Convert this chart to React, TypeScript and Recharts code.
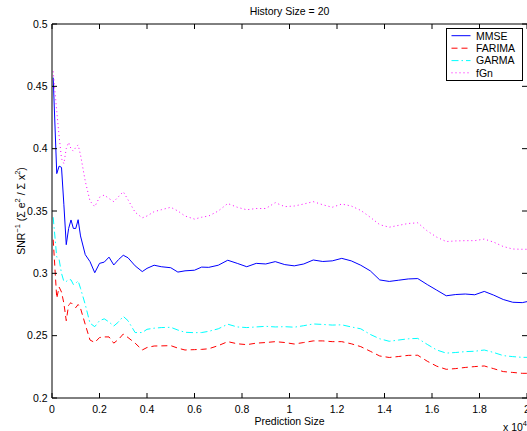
import React from "react";
import { LineChart, Line, XAxis, YAxis, Customized } from "recharts";

// Prediction size (x 10^4)
const xs = [
  0.005, 0.02, 0.03, 0.04, 0.05, 0.06, 0.07, 0.08, 0.09, 0.1, 0.11, 0.12, 0.14, 0.16, 0.18, 0.2,
  0.22, 0.24, 0.26, 0.28, 0.3, 0.32, 0.35, 0.38, 0.4, 0.43, 0.46, 0.5, 0.53, 0.56, 0.6, 0.63,
  0.66, 0.7, 0.74, 0.78, 0.82, 0.86, 0.9, 0.94, 0.98, 1.02, 1.06, 1.1, 1.14, 1.18, 1.22, 1.26,
  1.3, 1.34, 1.38, 1.42, 1.46, 1.5, 1.54, 1.58, 1.62, 1.66, 1.7, 1.74, 1.78, 1.82, 1.86, 1.9,
  1.94, 1.98, 2.0,
];

const mmse = [
  0.457, 0.38, 0.386, 0.385, 0.355, 0.323, 0.336, 0.3428, 0.336, 0.336, 0.343, 0.33, 0.315, 0.3094, 0.3005, 0.308,
  0.309, 0.313, 0.3067, 0.311, 0.3145, 0.3125, 0.306, 0.3014, 0.304, 0.3065, 0.3053, 0.3045, 0.301, 0.302, 0.3025, 0.305,
  0.3048, 0.3065, 0.3105, 0.308, 0.3053, 0.308, 0.3075, 0.3094, 0.307, 0.306, 0.3075, 0.3107, 0.3095, 0.31, 0.312, 0.31,
  0.3065, 0.302, 0.2947, 0.2935, 0.2945, 0.2955, 0.2958, 0.291, 0.2865, 0.282, 0.283, 0.2834, 0.2828, 0.2855, 0.2825, 0.279,
  0.2768, 0.2765, 0.2773,
];

const farima = [
  0.327, 0.28, 0.289, 0.285, 0.276, 0.262, 0.2746, 0.2765, 0.2745, 0.2725, 0.275, 0.272, 0.259, 0.2465, 0.2445, 0.2485,
  0.249, 0.249, 0.244, 0.247, 0.2513, 0.2485, 0.244, 0.2385, 0.2405, 0.2417, 0.2418, 0.242, 0.24, 0.2385, 0.2388, 0.239,
  0.2395, 0.242, 0.2452, 0.2435, 0.2428, 0.244, 0.2445, 0.2452, 0.2445, 0.2433, 0.2445, 0.2458, 0.2458, 0.2452, 0.2452, 0.2435,
  0.2412, 0.2375, 0.2337, 0.2325, 0.2333, 0.2342, 0.2343, 0.2295, 0.2255, 0.223, 0.2236, 0.2245, 0.2252, 0.2257, 0.2235, 0.2212,
  0.2205, 0.2198, 0.2198,
];

const garma = [
  0.345, 0.313, 0.311, 0.3, 0.2935, 0.2935, 0.295, 0.2948, 0.291, 0.292, 0.294, 0.288, 0.275, 0.26, 0.2572, 0.262,
  0.2635, 0.261, 0.2577, 0.261, 0.2655, 0.262, 0.2525, 0.2525, 0.2551, 0.256, 0.2565, 0.2567, 0.2545, 0.2527, 0.2524, 0.2525,
  0.2535, 0.2555, 0.2592, 0.257, 0.2565, 0.257, 0.2575, 0.257, 0.2572, 0.2568, 0.258, 0.2594, 0.259, 0.2585, 0.2587, 0.257,
  0.2555, 0.251, 0.2475, 0.2455, 0.2465, 0.2475, 0.2478, 0.243, 0.2385, 0.236, 0.2365, 0.2372, 0.2375, 0.2385, 0.2365, 0.234,
  0.2332, 0.2326, 0.2326,
];

const fgn = [
  0.462, 0.43, 0.41, 0.392, 0.388, 0.4, 0.405, 0.4, 0.398, 0.401, 0.403, 0.395, 0.374, 0.358, 0.3535, 0.361,
  0.3628, 0.36, 0.3575, 0.3615, 0.3655, 0.359, 0.349, 0.3445, 0.346, 0.3495, 0.351, 0.353, 0.35, 0.346, 0.3435, 0.345,
  0.346, 0.35, 0.356, 0.353, 0.351, 0.352, 0.352, 0.3567, 0.3535, 0.354, 0.3556, 0.3575, 0.355, 0.353, 0.3556, 0.354,
  0.3505, 0.345, 0.339, 0.337, 0.3385, 0.34, 0.3405, 0.334, 0.329, 0.3255, 0.326, 0.3262, 0.3262, 0.3275, 0.325, 0.3215,
  0.3195, 0.3193, 0.3193,
];

const xTicks = [0, 0.2, 0.4, 0.6, 0.8, 1, 1.2, 1.4, 1.6, 1.8, 2];
const xTickLabels = ["0", "0.2", "0.4", "0.6", "0.8", "1", "1.2", "1.4", "1.6", "1.8", "2"];
const yTicks = [0.2, 0.25, 0.3, 0.35, 0.4, 0.45, 0.5];
const yTickLabels = ["0.2", "0.25", "0.3", "0.35", "0.4", "0.45", "0.5"];

const seriesNames = ["MMSE", "FARIMA", "GARMA", "fGn"];
const seriesColors = ["#0000ff", "#ff0000", "#00ffff", "#ff00ff"];
const seriesDash = [undefined, "6 4", "7 3 1.5 3", "1 3"];

const data = xs.map((x, i) => ({
  x,
  MMSE: mmse[i],
  FARIMA: farima[i],
  GARMA: garma[i],
  fGn: fgn[i],
}));

const W = 527;
const H = 431;
const PLOT = { left: 52, top: 24, right: 527, bottom: 398 };
const FONT = "'Liberation Sans', Arial, Helvetica, sans-serif";
const FS = 10.5;
const TICK = 5;

const XTick = (props: any) => {
  const { x, payload, index } = props;
  const i = xTicks.indexOf(payload.value);
  const label = i >= 0 ? xTickLabels[i] : String(payload.value);
  return (
    <g key={`xt-${index}`}>
      <line x1={x} x2={x} y1={PLOT.bottom} y2={PLOT.bottom - TICK} stroke="#000" strokeWidth={1} />
      <line x1={x} x2={x} y1={PLOT.top} y2={PLOT.top + TICK} stroke="#000" strokeWidth={1} />
      <text x={x} y={PLOT.bottom + 15} textAnchor="middle" fontFamily={FONT} fontSize={FS} fill="#000">
        {label}
      </text>
    </g>
  );
};

const YTick = (props: any) => {
  const { y, payload, index } = props;
  const i = yTicks.indexOf(payload.value);
  const label = i >= 0 ? yTickLabels[i] : String(payload.value);
  return (
    <g key={`yt-${index}`}>
      <line x1={PLOT.left} x2={PLOT.left + TICK} y1={y} y2={y} stroke="#000" strokeWidth={1} />
      <line x1={PLOT.right} x2={PLOT.right - TICK} y1={y} y2={y} stroke="#000" strokeWidth={1} />
      <text x={PLOT.left - 4.5} y={y + 3.8} textAnchor="end" fontFamily={FONT} fontSize={FS} fill="#000">
        {label}
      </text>
    </g>
  );
};

const Decorations = () => {
  const lx = 446.5;
  const ly = 28.5;
  const rowY = [35.7, 48.2, 60.6, 72.8];
  return (
    <g>
      <line x1={PLOT.left} x2={PLOT.right} y1={PLOT.top} y2={PLOT.top} stroke="#000" strokeWidth={1} />
      <text x={(PLOT.left + PLOT.right) / 2} y={15} textAnchor="middle" fontFamily={FONT} fontSize={FS} fill="#000">
        History Size = 20
      </text>
      <text x={(PLOT.left + PLOT.right) / 2} y={424.5} textAnchor="middle" fontFamily={FONT} fontSize={FS} fill="#000">
        Prediction Size
      </text>
      <text x={503} y={430.5} fontFamily={FONT} fontSize={FS} fill="#000">
        x 10
        <tspan dy={-5} fontSize={7.5}>4</tspan>
      </text>
      <text
        transform={`translate(24.5, ${(PLOT.top + PLOT.bottom) / 2}) rotate(-90)`}
        textAnchor="middle"
        fontFamily={FONT}
        fontSize={FS}
        fill="#000"
      >
        SNR
        <tspan dy={-4.5} fontSize={7.5}>−1</tspan>
        <tspan dy={4.5}> (Σ e</tspan>
        <tspan dy={-4.5} fontSize={7.5}>2</tspan>
        <tspan dy={4.5}> / Σ x</tspan>
        <tspan dy={-4.5} fontSize={7.5}>2</tspan>
        <tspan dy={4.5}>)</tspan>
      </text>
      <rect x={lx} y={ly} width={76} height={52} fill="#fff" stroke="#000" strokeWidth={1} />
      {seriesNames.map((n, i) => (
        <g key={n}>
          <line
            x1={451.5}
            x2={470.5}
            y1={rowY[i]}
            y2={rowY[i]}
            stroke={seriesColors[i]}
            strokeWidth={1}
            strokeDasharray={seriesDash[i]}
          />
          <text x={476} y={rowY[i] + 3.8} fontFamily={FONT} fontSize={FS} fill="#000">
            {n}
          </text>
        </g>
      ))}
    </g>
  );
};

export default function App() {
  return (
    <div style={{ position: "absolute", left: 0, top: 0, width: W, height: H, background: "#fff" }}>
      <LineChart width={W} height={H} data={data} margin={{ top: 24, right: 0, bottom: 0, left: 0 }}>
        <XAxis
          dataKey="x"
          type="number"
          domain={[0, 2]}
          ticks={xTicks}
          interval={0}
          height={33}
          tickSize={0}
          tickMargin={0}
          tickLine={false}
          axisLine={{ stroke: "#000", strokeWidth: 1 }}
          tick={(p: any) => <XTick {...p} />}
          allowDataOverflow
        />
        <YAxis
          type="number"
          domain={[0.2, 0.5]}
          ticks={yTicks}
          interval={0}
          width={52}
          tickSize={0}
          tickMargin={0}
          tickLine={false}
          axisLine={{ stroke: "#000", strokeWidth: 1 }}
          tick={(p: any) => <YTick {...p} />}
          allowDataOverflow
        />
        {seriesNames.map((n, i) => (
          <Line
            key={n}
            dataKey={n}
            type="linear"
            stroke={seriesColors[i]}
            strokeWidth={1}
            strokeDasharray={seriesDash[i]}
            dot={false}
            activeDot={false}
            isAnimationActive={false}
          />
        ))}
        <Customized component={<Decorations />} />
      </LineChart>
    </div>
  );
}
